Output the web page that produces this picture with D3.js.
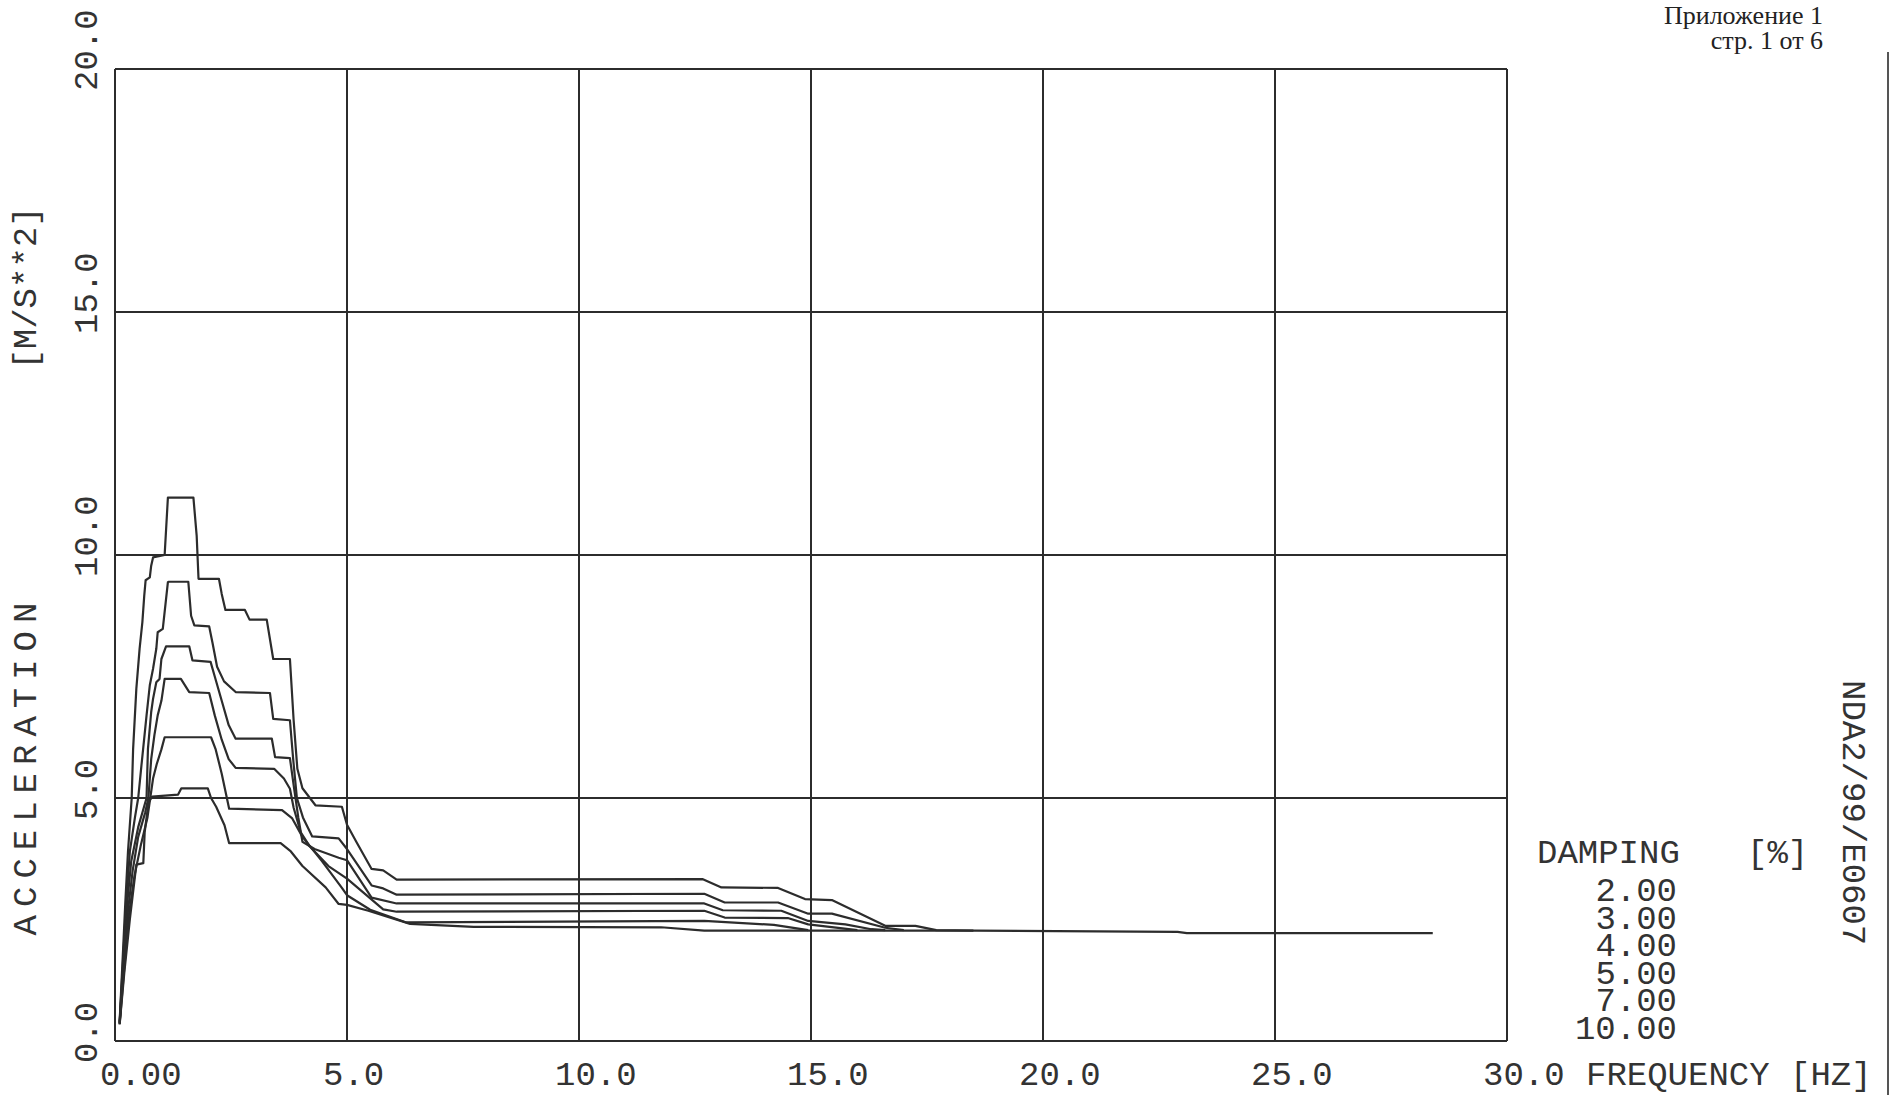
<!DOCTYPE html>
<html>
<head>
<meta charset="utf-8">
<script src="https://cdn.jsdelivr.net/npm/d3@7"></script>
<style>
  body { margin: 0; background: #fff; }
  svg { display: block; }
</style>
</head>
<body>
<script>
const damping = ["2.00", "3.00", "4.00", "5.00", "7.00", "10.00"];
const xTicks = [0, 5, 10, 15, 20, 25, 30];
const xTickLabels = ["0.00", "5.0", "10.0", "15.0", "20.0", "25.0", "30.0"];
const yTicks = [0, 5, 10, 15, 20];
const yTickLabels = ["0.0", "5.0", "10.0", "15.0", "20.0"];

// response spectra, [frequency Hz, acceleration m/s**2]
const s2 = [[0.10,0.40],[0.16,1.6],[0.22,2.8],[0.28,3.9],[0.36,5.0],[0.39,6.0],[0.46,7.25],[0.53,8.07],[0.59,8.62],[0.63,9.16],[0.66,9.48],[0.75,9.54],[0.78,9.78],[0.82,9.95],[1.07,10.0],[1.14,11.18],[1.69,11.18],[1.76,10.4],[1.80,9.51],[2.24,9.51],[2.30,9.2],[2.38,8.87],[2.80,8.87],[2.90,8.67],[3.27,8.67],[3.41,7.86],[3.77,7.86],[3.85,6.6],[3.93,5.6],[4.04,5.2],[4.32,4.85],[4.89,4.82],[5.00,4.45],[5.20,4.1],[5.53,3.54],[5.78,3.51],[6.07,3.32],[12.67,3.33],[13.07,3.16],[14.29,3.15],[14.87,2.92],[15.45,2.90],[16.60,2.37],[17.25,2.37],[17.70,2.28],[18.5,2.27],[22.9,2.245],[23.1,2.22],[28.4,2.22]];
const s3 = [[0.10,0.38],[0.17,1.6],[0.24,2.8],[0.32,3.9],[0.43,4.6],[0.50,5.0],[0.57,5.67],[0.68,6.7],[0.75,7.32],[0.82,7.66],[0.89,8.07],[0.92,8.41],[1.03,8.48],[1.14,9.44],[1.16,9.45],[1.58,9.45],[1.64,8.75],[1.71,8.55],[2.03,8.53],[2.10,8.2],[2.20,7.7],[2.35,7.4],[2.60,7.18],[3.34,7.16],[3.41,6.63],[3.77,6.60],[3.84,5.8],[3.92,5.0],[4.05,4.6],[4.25,4.21],[4.82,4.17],[5.00,3.95],[5.53,3.2],[5.78,3.14],[6.07,3.01],[12.7,3.03],[13.14,2.85],[14.29,2.85],[14.94,2.62],[15.45,2.62],[16.6,2.33],[17.0,2.28]];
const s4 = [[0.10,0.37],[0.18,1.6],[0.26,2.8],[0.35,3.7],[0.50,4.4],[0.62,4.8],[0.68,5.0],[0.71,6.01],[0.78,6.77],[0.82,7.04],[0.89,7.38],[0.96,7.45],[1.00,7.86],[1.10,8.12],[1.60,8.12],[1.67,7.83],[2.06,7.80],[2.15,7.5],[2.30,7.0],[2.45,6.5],[2.60,6.22],[3.38,6.22],[3.45,5.84],[3.77,5.82],[3.86,5.2],[3.95,4.6],[4.04,4.1],[4.30,3.95],[4.82,3.77],[5.00,3.72],[5.53,2.95],[6.07,2.83],[12.7,2.83],[13.1,2.69],[14.36,2.68],[14.94,2.47],[15.74,2.40],[16.3,2.30],[16.6,2.28]];
const s5 = [[0.10,0.36],[0.18,1.5],[0.27,2.6],[0.38,3.5],[0.50,4.2],[0.65,4.7],[0.72,5.0],[0.78,5.8],[0.85,6.3],[0.92,6.7],[1.00,7.0],[1.07,7.45],[1.42,7.45],[1.60,7.18],[2.03,7.16],[2.15,6.7],[2.30,6.2],[2.45,5.8],[2.60,5.62],[3.43,5.60],[3.64,5.40],[3.77,5.19],[3.85,4.8],[4.00,4.3],[4.20,4.0],[4.60,3.6],[5.00,3.34],[5.78,2.71],[6.07,2.66],[12.7,2.68],[13.14,2.54],[14.5,2.53],[14.94,2.40],[16.0,2.28]];
const s7 = [[0.10,0.35],[0.20,1.5],[0.30,2.6],[0.42,3.4],[0.55,4.0],[0.70,4.6],[0.76,5.0],[0.82,5.4],[0.90,5.7],[1.00,6.0],[1.07,6.25],[2.07,6.25],[2.17,6.0],[2.30,5.5],[2.46,4.78],[3.60,4.75],[3.82,4.58],[4.04,4.2],[4.46,3.7],[4.89,3.15],[5.00,3.0],[5.50,2.7],[6.28,2.44],[12.7,2.47],[14.2,2.39],[14.94,2.28]];
const s10 = [[0.10,0.34],[0.20,1.4],[0.32,2.5],[0.46,3.63],[0.61,3.66],[0.64,4.3],[0.72,4.9],[0.80,5.03],[1.36,5.07],[1.43,5.2],[2.00,5.2],[2.07,5.0],[2.18,4.82],[2.36,4.44],[2.46,4.07],[3.57,4.07],[3.79,3.9],[4.04,3.6],[4.54,3.16],[4.82,2.82],[5.00,2.80],[5.46,2.68],[6.36,2.41],[7.73,2.35],[11.77,2.34],[12.7,2.27],[18.5,2.27]];
const spectra = [s2, s3, s4, s5, s7, s10];

const W = 1897, H = 1095;
const ink = "#2c2c2c";
const mono = "'Liberation Mono', 'DejaVu Sans Mono', monospace";

const x = d3.scaleLinear().domain([0, 30]).range([115, 1507]);
const y = d3.scaleLinear().domain([0, 20]).range([1041, 69]);

const svg = d3.select("body").append("svg")
    .attr("width", W)
    .attr("height", H)
    .style("background", "#fff");

// grid
const grid = svg.append("g")
    .attr("stroke", ink)
    .attr("stroke-width", 2);

grid.selectAll("line.v")
  .data(xTicks)
  .join("line")
    .attr("class", "v")
    .attr("x1", d => x(d)).attr("x2", d => x(d))
    .attr("y1", y(20)).attr("y2", y(0));

grid.selectAll("line.h")
  .data(yTicks)
  .join("line")
    .attr("class", "h")
    .attr("x1", x(0)).attr("x2", x(30))
    .attr("y1", d => y(d)).attr("y2", d => y(d));

// curves
const line = d3.line()
    .x(d => x(d[0]))
    .y(d => y(d[1]));

svg.append("g")
    .attr("fill", "none")
    .attr("stroke", ink)
    .attr("stroke-width", 2.2)
    .attr("stroke-linejoin", "round")
  .selectAll("path")
  .data(spectra)
  .join("path")
    .attr("d", line);

// text
const txt = svg.append("g")
    .attr("fill", "#333")
    .style("font-family", mono)
    .style("font-size", "34px");

txt.selectAll("text.xt")
  .data(xTicks)
  .join("text")
    .attr("class", "xt")
    .attr("x", (d, i) => x(d) + (i === 0 ? -15 : -24))
    .attr("y", 1085)
    .text((d, i) => xTickLabels[i]);

txt.append("text")
    .attr("x", 1586)
    .attr("y", 1085)
    .text("FREQUENCY [HZ]");

txt.selectAll("text.yt")
  .data(yTicks)
  .join("text")
    .attr("class", "yt")
    .attr("transform", d => `translate(97,${y(d) + 22}) rotate(-90)`)
    .text((d, i) => yTickLabels[i]);

txt.append("text")
    .attr("transform", "translate(36,765) rotate(-90)")
    .attr("text-anchor", "middle")
    .attr("letter-spacing", 8)
    .text("ACCELERATION");

txt.append("text")
    .attr("transform", "translate(36,288) rotate(-90)")
    .attr("text-anchor", "middle")
    .text("[M/S**2]");

// legend
txt.append("text")
    .attr("x", 1537)
    .attr("y", 863)
    .text("DAMPING");

txt.append("text")
    .attr("x", 1747)
    .attr("y", 863)
    .text("[%]");

txt.selectAll("text.dmp")
  .data(damping)
  .join("text")
    .attr("class", "dmp")
    .attr("text-anchor", "end")
    .attr("x", 1677)
    .attr("y", (d, i) => 901 + i * 27.6)
    .text(d => d);

txt.append("text")
    .attr("transform", "translate(1843,680) rotate(90)")
    .text("NDA2/99/E0607");

// page header
const hdr = svg.append("g")
    .attr("fill", "#222")
    .attr("text-anchor", "end")
    .style("font-family", "'Liberation Serif', 'DejaVu Serif', serif")
    .style("font-size", "26px");

hdr.append("text").attr("x", 1823).attr("y", 24).text("Приложение 1");
hdr.append("text").attr("x", 1823).attr("y", 49).text("стр. 1 от 6");

// scan edge of the page
svg.append("line")
    .attr("x1", 1888).attr("x2", 1888)
    .attr("y1", 52).attr("y2", H)
    .attr("stroke", "#555")
    .attr("stroke-width", 2);
</script>
</body>
</html>
